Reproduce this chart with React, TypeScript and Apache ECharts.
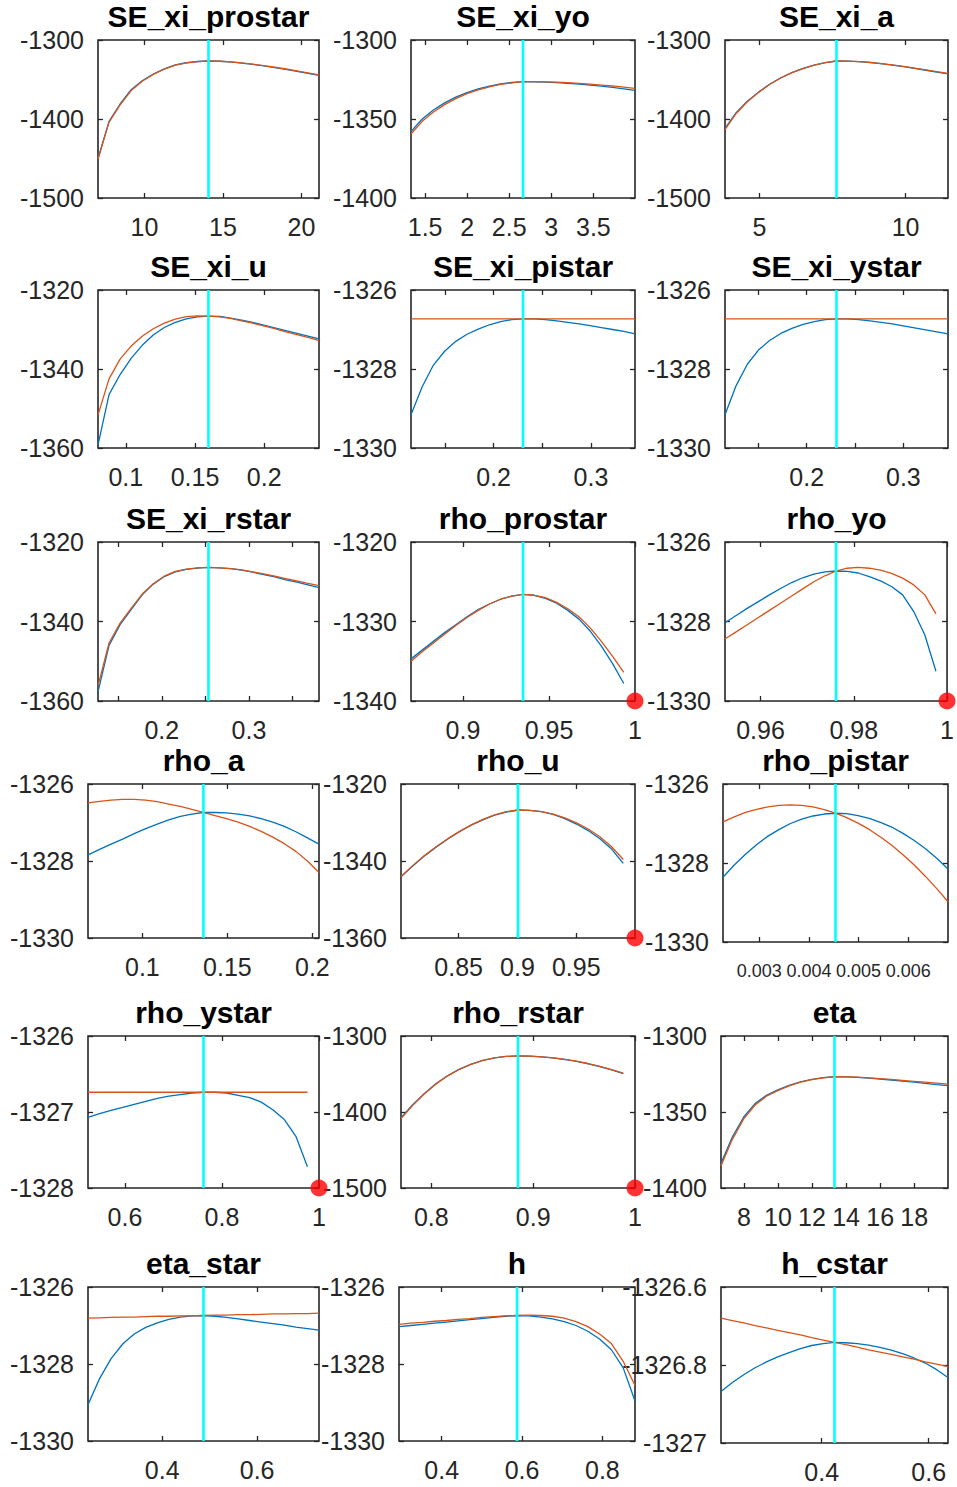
import React, { useEffect, useRef } from "react";
import * as echarts from "echarts";

// ---------------- data ----------------
const PANEL_NAMES = [
  "SE_xi_prostar", "SE_xi_yo", "SE_xi_a",
  "SE_xi_u", "SE_xi_pistar", "SE_xi_ystar",
  "SE_xi_rstar", "rho_prostar", "rho_yo",
  "rho_a", "rho_u", "rho_pistar",
  "rho_ystar", "rho_rstar", "eta",
  "eta_star", "h", "h_cstar",
];

// parameter grid: lower end, mode, upper end (x limits)
const X_LOW = [7.04, 1.332, 3.817, 0.0799, 0.1151, 0.1154, 0.1268, 0.8698, 0.9524, 0.068, 0.801, 0.002268, 0.5238, 0.7702, 6.66, 0.2435, 0.2937, 0.212];
const X_MODE = [14.08, 2.663, 7.634, 0.1597, 0.2302, 0.2308, 0.2535, 0.9349, 0.9762, 0.1359, 0.9005, 0.004535, 0.7619, 0.8851, 13.32, 0.4869, 0.5875, 0.424];
const X_HIGH = [21.12, 3.995, 11.451, 0.2396, 0.3453, 0.3462, 0.3803, 1, 1, 0.2039, 1, 0.006803, 1, 1, 19.98, 0.7304, 0.8812, 0.636];

// upper bound marker (red dot) per panel
const BOUND_X: (number | null)[] = [null, null, null, null, null, null, null, 1, 1, null, 1, null, 1, 1, null, null, null, null];

const X_TICKS = [
  [10, 15, 20], [1.5, 2, 2.5, 3, 3.5], [5, 10],
  [0.1, 0.15, 0.2], [0.15, 0.2, 0.25, 0.3], [0.15, 0.2, 0.25, 0.3],
  [0.15, 0.2, 0.25, 0.3, 0.35], [0.9, 0.95, 1], [0.96, 0.98, 1],
  [0.1, 0.15, 0.2], [0.85, 0.9, 0.95], [0.003, 0.004, 0.005, 0.006],
  [0.6, 0.8, 1], [0.8, 0.9, 1], [8, 10, 12, 14, 16, 18],
  [0.4, 0.6], [0.4, 0.6, 0.8], [0.4, 0.6],
];
const X_LABELS = [
  [10, 15, 20], [1.5, 2, 2.5, 3, 3.5], [5, 10],
  [0.1, 0.15, 0.2], [0.2, 0.3], [0.2, 0.3],
  [0.2, 0.3], [0.9, 0.95, 1], [0.96, 0.98, 1],
  [0.1, 0.15, 0.2], [0.85, 0.9, 0.95], [0.003, 0.004, 0.005, 0.006],
  [0.6, 0.8, 1], [0.8, 0.9, 1], [8, 10, 12, 14, 16, 18],
  [0.4, 0.6], [0.4, 0.6, 0.8], [0.4, 0.6],
];
const Y_TICKS = [
  [-1500, -1400, -1300], [-1400, -1350, -1300], [-1500, -1400, -1300],
  [-1360, -1340, -1320], [-1330, -1328, -1326], [-1330, -1328, -1326],
  [-1360, -1340, -1320], [-1340, -1330, -1320], [-1330, -1328, -1326],
  [-1330, -1328, -1326], [-1360, -1340, -1320], [-1330, -1328, -1326],
  [-1328, -1327, -1326], [-1500, -1400, -1300], [-1400, -1350, -1300],
  [-1330, -1328, -1326], [-1330, -1328, -1326], [-1327, -1326.8, -1326.6],
];

// 21 evaluations per parameter (10 below mode, mode, 10 above); null = not plotted
const BLUE_SE_xi_prostar = [-1450, -1403, -1381, -1363, -1351.5, -1343, -1336.5, -1331.5, -1328.8, -1327.2, -1326.6, -1326.9, -1327.8, -1329.2, -1330.9, -1332.8, -1335, -1337.3, -1339.6, -1342.2, -1344.9];
const ORANGE_SE_xi_prostar = [-1451, -1404, -1382, -1364, -1352.3, -1343.6, -1337, -1331.9, -1329, -1327.3, -1326.6, -1326.9, -1327.7, -1329.0, -1330.6, -1332.4, -1334.5, -1336.7, -1339.0, -1341.5, -1344.2];

const BLUE_SE_xi_yo = [-1358, -1350, -1344.3, -1339.8, -1336.2, -1333.3, -1331, -1329.2, -1327.8, -1326.9, -1326.4, -1326.5, -1326.7, -1327.0, -1327.4, -1327.9, -1328.5, -1329.2, -1330, -1330.9, -1331.9];
const ORANGE_SE_xi_yo = [-1359.5, -1351.5, -1345.6, -1340.9, -1337.1, -1334, -1331.6, -1329.7, -1328.1, -1327.1, -1326.4, -1326.4, -1326.5, -1326.7, -1327.0, -1327.4, -1327.9, -1328.5, -1329.1, -1329.8, -1330.6];

const BLUE_SE_xi_a = [-1412, -1392, -1377.5, -1366, -1356, -1347.8, -1341.2, -1336, -1331.8, -1328.7, -1326.6, -1326.7, -1327.4, -1328.5, -1330, -1331.8, -1333.8, -1336, -1338.3, -1340.6, -1343];
const ORANGE_SE_xi_a = [-1413.5, -1393, -1378.2, -1366.5, -1356.4, -1348.1, -1341.4, -1336.2, -1331.9, -1328.7, -1326.6, -1326.7, -1327.3, -1328.4, -1329.8, -1331.5, -1333.5, -1335.6, -1337.8, -1340.1, -1342.4];

const BLUE_SE_xi_u = [-1359.2, -1346.5, -1341.4, -1337.3, -1334, -1331.4, -1329.5, -1328.2, -1327.3, -1326.8, -1326.6, -1326.7, -1327.1, -1327.6, -1328.2, -1328.9, -1329.6, -1330.3, -1331, -1331.7, -1332.4];
const ORANGE_SE_xi_u = [-1351.6, -1342.5, -1337.5, -1334.2, -1331.7, -1329.8, -1328.4, -1327.4, -1326.75, -1326.55, -1326.6, -1326.8, -1327.2, -1327.8, -1328.4, -1329.1, -1329.8, -1330.6, -1331.3, -1332.0, -1332.8];

const BLUE_SE_xi_pistar = [-1329.16, -1328.45, -1327.9, -1327.55, -1327.3, -1327.12, -1326.99, -1326.88, -1326.8, -1326.75, -1326.73, -1326.73, -1326.75, -1326.78, -1326.82, -1326.86, -1326.9, -1326.95, -1327.0, -1327.05, -1327.11];
const ORANGE_SE_xi_pistar = [-1326.73, -1326.73, -1326.73, -1326.73, -1326.73, -1326.73, -1326.73, -1326.73, -1326.73, -1326.73, -1326.73, -1326.73, -1326.73, -1326.73, -1326.73, -1326.73, -1326.73, -1326.73, -1326.73, -1326.73, -1326.73];

const BLUE_SE_xi_ystar = [-1329.16, -1328.42, -1327.88, -1327.52, -1327.28, -1327.1, -1326.97, -1326.87, -1326.8, -1326.75, -1326.73, -1326.73, -1326.75, -1326.78, -1326.82, -1326.86, -1326.91, -1326.96, -1327.01, -1327.06, -1327.11];
const ORANGE_SE_xi_ystar = [-1326.73, -1326.73, -1326.73, -1326.73, -1326.73, -1326.73, -1326.73, -1326.73, -1326.73, -1326.73, -1326.73, -1326.73, -1326.73, -1326.73, -1326.73, -1326.73, -1326.73, -1326.73, -1326.73, -1326.73, -1326.73];

const BLUE_SE_xi_rstar = [-1357.7, -1346, -1340.8, -1337.0, -1333.3, -1330.6, -1328.7, -1327.5, -1326.9, -1326.55, -1326.4, -1326.5, -1326.7, -1327.1, -1327.6, -1328.2, -1328.8, -1329.5, -1330.1, -1330.8, -1331.5];
const ORANGE_SE_xi_rstar = [-1356.2, -1345.4, -1340.4, -1336.7, -1333.1, -1330.5, -1328.6, -1327.4, -1326.8, -1326.5, -1326.4, -1326.5, -1326.7, -1327.0, -1327.5, -1328.0, -1328.6, -1329.2, -1329.8, -1330.4, -1331.0];

const BLUE_rho_prostar = [-1334.7, -1333.6, -1332.5, -1331.4, -1330.4, -1329.4, -1328.5, -1327.8, -1327.2, -1326.8, -1326.6, -1326.7, -1327.1, -1327.7, -1328.6, -1329.7, -1331.2, -1333.1, -1335.3, -1337.8, null];
const ORANGE_rho_prostar = [-1335.0, -1333.8, -1332.7, -1331.6, -1330.5, -1329.5, -1328.6, -1327.8, -1327.2, -1326.8, -1326.6, -1326.7, -1327.0, -1327.6, -1328.4, -1329.4, -1330.8, -1332.5, -1334.4, -1336.4, null];

const BLUE_rho_yo = [-1328.03, -1327.85, -1327.67, -1327.5, -1327.33, -1327.17, -1327.02, -1326.9, -1326.81, -1326.75, -1326.73, -1326.74, -1326.78, -1326.87, -1326.98, -1327.12, -1327.33, -1327.75, -1328.34, -1329.25, null];
const ORANGE_rho_yo = [-1328.44, -1328.26, -1328.08, -1327.9, -1327.72, -1327.54, -1327.36, -1327.18, -1327.0, -1326.85, -1326.73, -1326.66, -1326.64, -1326.66, -1326.71, -1326.79, -1326.91, -1327.08, -1327.33, -1327.81, null];

const BLUE_rho_a = [-1327.84, -1327.7, -1327.56, -1327.43, -1327.29, -1327.16, -1327.04, -1326.93, -1326.84, -1326.78, -1326.74, -1326.74, -1326.75, -1326.78, -1326.83, -1326.9, -1326.99, -1327.1, -1327.24, -1327.4, -1327.56];
const ORANGE_rho_a = [-1326.49, -1326.45, -1326.42, -1326.4, -1326.4, -1326.42, -1326.46, -1326.52, -1326.58, -1326.66, -1326.74, -1326.82, -1326.9, -1326.99, -1327.1, -1327.23, -1327.38, -1327.55, -1327.75, -1328.0, -1328.3];

const BLUE_rho_u = [-1344.1, -1341.3, -1338.7, -1336.4, -1334.3, -1332.4, -1330.7, -1329.3, -1328.1, -1327.3, -1326.75, -1326.85, -1327.2, -1327.9, -1329.0, -1330.4, -1332.1, -1334.2, -1336.9, -1340.6, null];
const ORANGE_rho_u = [-1344.0, -1341.2, -1338.6, -1336.3, -1334.2, -1332.3, -1330.6, -1329.2, -1328.0, -1327.2, -1326.75, -1326.85, -1327.15, -1327.8, -1328.8, -1330.1, -1331.7, -1333.7, -1336.3, -1339.6, null];

const BLUE_rho_pistar = [-1328.36, -1328.05, -1327.78, -1327.53, -1327.32, -1327.15, -1327.0, -1326.89, -1326.81, -1326.76, -1326.74, -1326.75, -1326.8, -1326.87, -1326.97, -1327.09, -1327.25, -1327.43, -1327.64, -1327.88, -1328.15];
const ORANGE_rho_pistar = [-1326.96, -1326.83, -1326.72, -1326.64, -1326.58, -1326.54, -1326.53, -1326.54, -1326.58, -1326.65, -1326.74, -1326.85, -1326.99, -1327.15, -1327.34, -1327.55, -1327.79, -1328.05, -1328.34, -1328.65, -1328.98];

const BLUE_rho_ystar = [-1327.07, -1327.02, -1326.98, -1326.94, -1326.9, -1326.86, -1326.82, -1326.79, -1326.77, -1326.75, -1326.74, -1326.74, -1326.75, -1326.78, -1326.81, -1326.87, -1326.97, -1327.1, -1327.32, -1327.72, null];
const ORANGE_rho_ystar = [-1326.74, -1326.74, -1326.74, -1326.74, -1326.74, -1326.74, -1326.74, -1326.74, -1326.74, -1326.74, -1326.74, -1326.74, -1326.74, -1326.74, -1326.74, -1326.74, -1326.74, -1326.74, -1326.74, -1326.74, null];

const BLUE_rho_rstar = [-1407.5, -1390.5, -1375.5, -1362.5, -1352, -1343.5, -1337, -1332, -1328.8, -1326.9, -1326.3, -1326.6, -1327.45, -1328.9, -1330.9, -1333.5, -1336.6, -1340.4, -1344.7, -1349.6, null];
const ORANGE_rho_rstar = [-1408.5, -1391.3, -1376.1, -1363, -1352.4, -1343.8, -1337.2, -1332.1, -1328.8, -1326.9, -1326.3, -1326.6, -1327.4, -1328.8, -1330.7, -1333.2, -1336.2, -1339.9, -1344.1, -1348.9, null];

const BLUE_eta = [-1383.8, -1366.5, -1353.3, -1344.5, -1339, -1335.5, -1332.5, -1330.2, -1328.6, -1327.4, -1326.8, -1326.9, -1327.2, -1327.7, -1328.3, -1329, -1329.7, -1330.4, -1331.2, -1332, -1332.7];
const ORANGE_eta = [-1385.3, -1368, -1354.5, -1345.4, -1339.6, -1335.9, -1332.8, -1330.4, -1328.7, -1327.5, -1326.8, -1326.9, -1327.1, -1327.5, -1328.0, -1328.6, -1329.2, -1329.8, -1330.4, -1331.0, -1331.6];

const BLUE_eta_star = [-1329.06, -1328.38, -1327.86, -1327.48, -1327.22, -1327.05, -1326.93, -1326.84, -1326.78, -1326.75, -1326.74, -1326.76, -1326.79, -1326.83, -1326.87, -1326.91, -1326.95, -1326.99, -1327.04, -1327.08, -1327.12];
const ORANGE_eta_star = [-1326.81, -1326.8, -1326.79, -1326.78, -1326.78, -1326.77, -1326.76, -1326.76, -1326.75, -1326.75, -1326.74, -1326.73, -1326.73, -1326.72, -1326.72, -1326.71, -1326.7, -1326.7, -1326.69, -1326.69, -1326.68];

const BLUE_h = [-1327.03, -1327.0, -1326.97, -1326.94, -1326.91, -1326.88, -1326.85, -1326.82, -1326.79, -1326.76, -1326.74, -1326.75, -1326.78, -1326.83, -1326.9, -1327.0, -1327.15, -1327.35, -1327.63, -1328.1, -1328.96];
const ORANGE_h = [-1326.97, -1326.94, -1326.92, -1326.89, -1326.87, -1326.84, -1326.82, -1326.79, -1326.77, -1326.75, -1326.74, -1326.73, -1326.74, -1326.76, -1326.81, -1326.9, -1327.03, -1327.22, -1327.47, -1327.93, -1328.56];

const BLUE_h_cstar = [-1326.868, -1326.845, -1326.825, -1326.807, -1326.792, -1326.779, -1326.768, -1326.758, -1326.75, -1326.745, -1326.742, -1326.743, -1326.745, -1326.749, -1326.755, -1326.762, -1326.771, -1326.782, -1326.795, -1326.812, -1326.832];
const ORANGE_h_cstar = [-1326.68, -1326.686, -1326.692, -1326.699, -1326.705, -1326.711, -1326.717, -1326.723, -1326.73, -1326.736, -1326.742, -1326.748, -1326.754, -1326.761, -1326.767, -1326.773, -1326.779, -1326.785, -1326.792, -1326.798, -1326.804];

const BLUE = [
  BLUE_SE_xi_prostar, BLUE_SE_xi_yo, BLUE_SE_xi_a, BLUE_SE_xi_u, BLUE_SE_xi_pistar, BLUE_SE_xi_ystar,
  BLUE_SE_xi_rstar, BLUE_rho_prostar, BLUE_rho_yo, BLUE_rho_a, BLUE_rho_u, BLUE_rho_pistar,
  BLUE_rho_ystar, BLUE_rho_rstar, BLUE_eta, BLUE_eta_star, BLUE_h, BLUE_h_cstar,
];
const ORANGE = [
  ORANGE_SE_xi_prostar, ORANGE_SE_xi_yo, ORANGE_SE_xi_a, ORANGE_SE_xi_u, ORANGE_SE_xi_pistar, ORANGE_SE_xi_ystar,
  ORANGE_SE_xi_rstar, ORANGE_rho_prostar, ORANGE_rho_yo, ORANGE_rho_a, ORANGE_rho_u, ORANGE_rho_pistar,
  ORANGE_rho_ystar, ORANGE_rho_rstar, ORANGE_eta, ORANGE_eta_star, ORANGE_h, ORANGE_h_cstar,
];

// ---------------- layout (left, top, right, bottom in px) ----------------
const GRID_RECTS = [
  [98, 40, 319, 198], [411, 40, 635, 198], [725, 40, 948, 198],
  [98, 290, 319, 448], [411, 290, 635, 448], [725, 290, 948, 448],
  [98, 542, 319, 701], [411, 542, 635, 701], [725, 542, 948, 701],
  [88, 784, 319, 938], [401, 784, 635, 938], [723, 784, 948, 942],
  [88, 1036, 319, 1188], [401, 1036, 635, 1188], [721, 1036, 948, 1188],
  [88, 1287, 319, 1441], [399, 1287, 635, 1441], [721, 1287, 948, 1443],
];

const FONT = '"Liberation Sans", Arial, Helvetica, sans-serif';
const AXIS_COLOR = "#262626";
const TICK_FONT = 25;
const TITLE_FONT = 30;
// the densely ticked rho_pistar axis gets smaller labels so that all four fit
const X_LABEL_FONT: Record<number, number> = { 11: 18 };

function fmt(v: number) {
  return String(parseFloat(Number(v).toPrecision(10)));
}

function gridX(p: number, i: number) {
  const lo = X_LOW[p], m = X_MODE[p], hi = X_HIGH[p];
  return i <= 10 ? lo + ((m - lo) * i) / 10 : m + ((hi - m) * (i - 10)) / 10;
}

function buildOption() {
  const grid: any[] = [];
  const xAxis: any[] = [];
  const yAxis: any[] = [];
  const series: any[] = [];
  const graphic: any[] = [];

  PANEL_NAMES.forEach((name, p) => {
    const [l, t, r, b] = GRID_RECTS[p];
    grid.push({
      left: l, top: t, width: r - l, height: b - t,
      show: true, borderColor: AXIS_COLOR, borderWidth: 1.6, backgroundColor: "#ffffff",
    });
    const yt = Y_TICKS[p];
    const ymin = yt[0], ymax = yt[yt.length - 1];
    const xmin = X_LOW[p], xmax = X_HIGH[p];
    const tickStyle = { show: true, inside: true, length: 5, lineStyle: { color: AXIS_COLOR, width: 1.3 } };
    const xFont = X_LABEL_FONT[p] ?? TICK_FONT;
    xAxis.push({
      type: "value", gridIndex: p, min: xmin, max: xmax, position: "bottom",
      axisLine: { show: false }, splitLine: { show: false },
      axisTick: { ...tickStyle, customValues: X_TICKS[p] },
      axisLabel: {
        customValues: X_LABELS[p], formatter: (v: number) => fmt(v),
        margin: xFont === TICK_FONT ? 16 : 20, hideOverlap: false,
        showMinLabel: true, showMaxLabel: true,
        fontSize: xFont, color: AXIS_COLOR, fontFamily: FONT,
      },
    });
    xAxis.push({
      type: "value", gridIndex: p, min: xmin, max: xmax, position: "top",
      axisLine: { show: false }, splitLine: { show: false },
      axisTick: { ...tickStyle, customValues: X_TICKS[p] },
      axisLabel: { show: false },
    });
    yAxis.push({
      type: "value", gridIndex: p, min: ymin, max: ymax, position: "left",
      axisLine: { show: false }, splitLine: { show: false },
      axisTick: { ...tickStyle, customValues: yt },
      axisLabel: {
        customValues: yt, formatter: (v: number) => fmt(v), margin: 14, hideOverlap: false,
        showMinLabel: true, showMaxLabel: true,
        fontSize: TICK_FONT, color: AXIS_COLOR, fontFamily: FONT,
      },
    });
    yAxis.push({
      type: "value", gridIndex: p, min: ymin, max: ymax, position: "right",
      axisLine: { show: false }, splitLine: { show: false },
      axisTick: { ...tickStyle, customValues: yt },
      axisLabel: { show: false },
    });

    const xi = 2 * p;
    const toPairs = (arr: (number | null)[]) =>
      arr.map((y, i) => (y === null ? null : [gridX(p, i), y])).filter((d) => d !== null);

    series.push({
      type: "line", xAxisIndex: xi, yAxisIndex: xi, data: toPairs(BLUE[p]),
      showSymbol: false, symbol: "none", lineStyle: { color: "#0072BD", width: 1.3 }, z: 3, silent: true,
    });
    series.push({
      type: "line", xAxisIndex: xi, yAxisIndex: xi, data: toPairs(ORANGE[p]),
      showSymbol: false, symbol: "none", lineStyle: { color: "#D95319", width: 1.3 }, z: 4, silent: true,
    });
    series.push({
      type: "line", xAxisIndex: xi, yAxisIndex: xi,
      data: [[X_MODE[p], ymin], [X_MODE[p], ymax]],
      showSymbol: false, symbol: "none", lineStyle: { color: "#00FFFF", width: 2.6 }, z: 5, silent: true,
    });
    const bx = BOUND_X[p];
    if (bx !== null) {
      series.push({
        type: "scatter", xAxisIndex: xi, yAxisIndex: xi, data: [[bx, ymin]],
        symbol: "circle", symbolSize: 17, itemStyle: { color: "#FF0000" }, clip: false, z: 6, silent: true,
      });
    }

    graphic.push({
      type: "text", x: (l + r) / 2, y: t - 24, silent: true,
      style: {
        text: name, fill: "#000000", fontSize: TITLE_FONT, fontWeight: "bold", fontFamily: FONT,
        textAlign: "center", textVerticalAlign: "middle", align: "center", verticalAlign: "middle",
      },
    });
  });

  return {
    animation: false,
    backgroundColor: "#ffffff",
    grid, xAxis, yAxis, series, graphic,
  };
}

export default function App() {
  const ref = useRef<HTMLDivElement | null>(null);
  useEffect(() => {
    if (!ref.current) return;
    const chart = echarts.init(ref.current, undefined, { renderer: "svg" });
    chart.setOption(buildOption() as any);
    return () => chart.dispose();
  }, []);
  return (
    <div
      ref={ref}
      style={{ position: "absolute", left: 0, top: 0, width: 957, height: 1487, background: "#ffffff" }}
    />
  );
}
